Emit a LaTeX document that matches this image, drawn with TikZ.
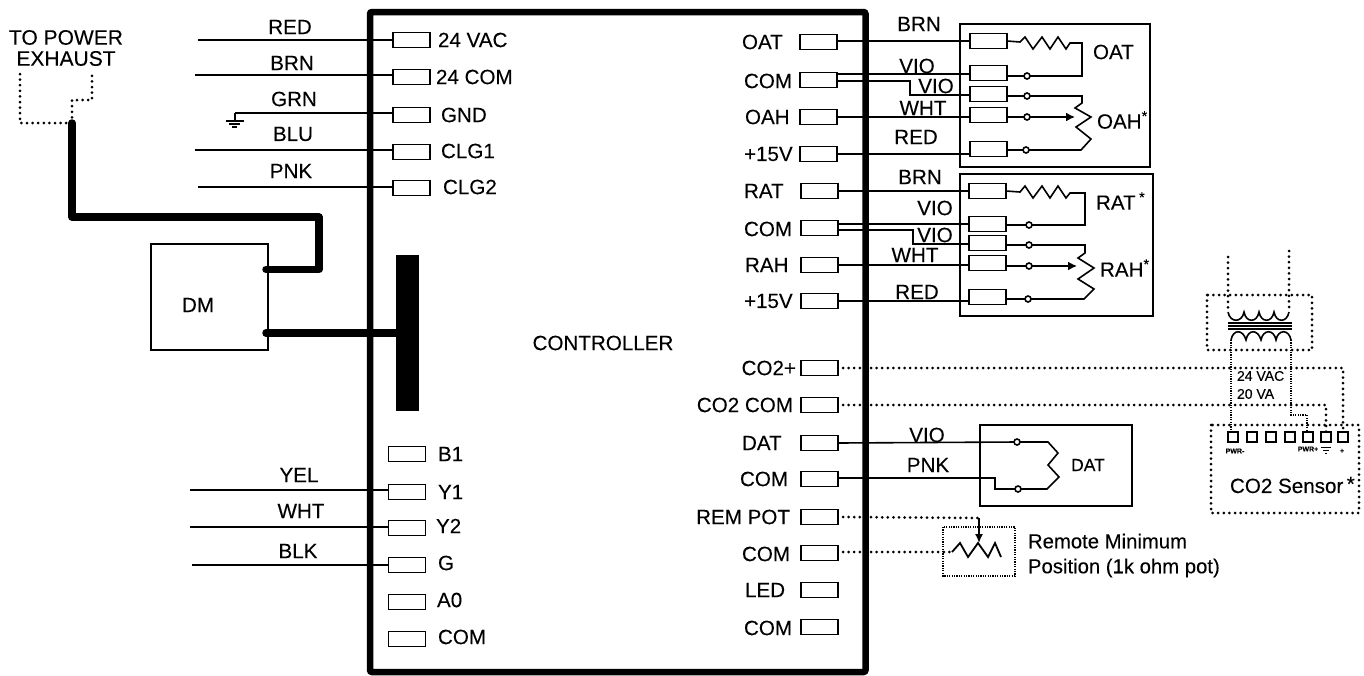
\documentclass[tikz,border=0pt]{standalone}
\usepackage{fontspec}
\setmainfont{Liberation Sans}[FakeBold=0.15]
\usetikzlibrary{arrows.meta}
\tikzset{
  term/.style={draw, line width=1.6pt, rectangle, inner sep=0pt, outer sep=0pt, minimum width=37pt, minimum height=15pt},
  lbl/.style={inner sep=0pt, outer sep=0pt, font=\fontsize{20.6}{22}\selectfont},
  wire/.style={line width=1.6pt},
  fatwire/.style={line width=7.5pt, line join=round, line cap=round},
  dotwire/.style={line width=3pt, line cap=round, dash pattern=on 0pt off 5.6pt},
  thindot/.style={line width=1.2pt, dash pattern=on 1.2pt off 1.2pt},
  pin/.style={draw, line width=1.6pt, circle, fill=white, inner sep=0pt, outer sep=0pt, minimum size=6pt},
  sq/.style={draw, line width=1.4pt, rectangle, inner sep=0pt, outer sep=0pt, minimum size=10pt},
  tiny/.style={inner sep=0pt, outer sep=0pt, font=\fontsize{7}{8}\bfseries\selectfont}
}
\begin{document}
\begin{tikzpicture}[x=1pt, y=-1pt]
\useasboundingbox (0,0) rectangle (1364,675);
% controller
\draw[line width=6.5pt, rounded corners=2pt] (370,12) rectangle (865.5,672);
\node[lbl] (ctrl) at (603,343) {CONTROLLER};
\fill (396,255) rectangle (419,411);
\coordinate (barw) at (396,333);
% left terminals
\node[term] (vac) at (411.5,40) {};
\node[term] (com24) at (411.5,77) {};
\node[term] (gnd) at (411.5,115) {};
\node[term] (clga) at (411.5,152) {};
\node[term] (clgb) at (411.5,188) {};
\node[term] (ba) at (407,454) {};
\node[term] (ya) at (407,492) {};
\node[term] (yb) at (407,528) {};
\node[term] (g) at (407,565) {};
\node[term] (azero) at (407,602) {};
\node[term] (coml) at (407,639) {};
\node[lbl, anchor=west] at (438,40) {24 VAC};
\node[lbl, anchor=west] at (436,77) {24 COM};
\node[lbl, anchor=west] at (441,115) {GND};
\node[lbl, anchor=west] at (441,151) {CLG1};
\node[lbl, anchor=west] at (443,187) {CLG2};
\node[lbl, anchor=west] at (438,454) {B1};
\node[lbl, anchor=west] at (438,492) {Y1};
\node[lbl, anchor=west] at (436,526) {Y2};
\node[lbl, anchor=west] at (438,563) {G};
\node[lbl, anchor=west] at (437,600) {A0};
\node[lbl, anchor=west] at (438,637) {COM};
% left wires
\coordinate (redend) at (198,40);
\coordinate (brnend) at (195,75);
\coordinate (grnend) at (235,113);
\coordinate (bluend) at (195,150);
\coordinate (pnkend) at (198,187);
\coordinate (yelend) at (190,490);
\coordinate (whtend) at (190,527);
\coordinate (blkend) at (192,565);
\draw[wire] (redend) -- (redend -| vac.west);
\draw[wire] (brnend) -- (brnend -| com24.west);
\draw[wire] (grnend) -- (grnend -| gnd.west);
\draw[wire] (bluend) -- (bluend -| clga.west);
\draw[wire] (pnkend) -- (pnkend -| clgb.west);
\draw[wire] (yelend) -- (yelend -| ya.west);
\draw[wire] (whtend) -- (whtend -| yb.west);
\draw[wire] (blkend) -- (blkend -| g.west);
\draw[wire] (grnend) -- (235,121);
\draw[line width=1.6pt] (226,121) -- (244,121);
\draw[line width=1.6pt] (229,124) -- (240,124);
\draw[line width=1.6pt] (232,127) -- (237,127);
\node[lbl] at (290,27) {RED};
\node[lbl] at (292,63) {BRN};
\node[lbl] at (294,99) {GRN};
\node[lbl] at (293,134) {BLU};
\node[lbl] at (291,171) {PNK};
\node[lbl] at (299,475) {YEL};
\node[lbl] at (301,511) {WHT};
\node[lbl] at (298,551) {BLK};
% damper motor
\draw[line width=1.4pt] (151,244) rectangle (268,350);
\node[lbl] (dm) at (198,305) {DM};
\coordinate (dmup) at (266,269.5);
\coordinate (dmlo) at (266,333);
\coordinate (exh) at (72,123);
\draw[fatwire] (dmup) -| (319,217) -| (exh);
\draw[fatwire] (dmlo) -- (barw);
\node[lbl, align=center, font=\fontsize{21}{22}\selectfont] (toexh) at (66,48) {TO POWER\\[-1pt]EXHAUST};
\draw[dotwire] (20,74) |- (exh);
\draw[dotwire] (exh) |- (92,100) -- (92,74);
% right terminals
\node[term] (oat) at (818.5,42) {};
\node[term] (coma) at (818.5,80) {};
\node[term] (oah) at (818.5,117) {};
\node[term] (fva) at (818.5,154) {};
\node[term] (rat) at (819.5,191) {};
\node[term] (comb) at (819.5,228) {};
\node[term] (rah) at (819.5,265) {};
\node[term] (fvb) at (819.5,301) {};
\node[term] (cop) at (819.5,368) {};
\node[term] (coc) at (819.5,405) {};
\node[term] (dat) at (819.5,443) {};
\node[term] (comc) at (819.5,479) {};
\node[term] (rem) at (819.5,517) {};
\node[term] (comd) at (819.5,553) {};
\node[term] (led) at (819.5,590) {};
\node[term] (come) at (819.5,627) {};
\node[lbl, anchor=west] at (742,42) {OAT};
\node[lbl, anchor=west] at (744,81) {COM};
\node[lbl, anchor=west] at (745,117) {OAH};
\node[lbl, anchor=west] at (744,154) {+15V};
\node[lbl, anchor=west] at (744,191) {RAT};
\node[lbl, anchor=west] at (744,229) {COM};
\node[lbl, anchor=west] at (745,265) {RAH};
\node[lbl, anchor=west] at (744,301) {+15V};
\node[lbl, anchor=east] at (796,368) {CO2+};
\node[lbl, anchor=east] at (793,405) {CO2 COM};
\node[lbl, anchor=west] at (742,443) {DAT};
\node[lbl, anchor=west] at (740,479) {COM};
\node[lbl, anchor=east] at (790,517) {REM POT};
\node[lbl, anchor=west] at (742,554) {COM};
\node[lbl, anchor=west] at (745,590) {LED};
\node[lbl, anchor=west] at (744,628) {COM};
% OAT / OAH box
\draw[line width=1.4pt] (960,24) rectangle (1150,167);
\node[term] (oata) at (988.5,41) {};
\node[term] (oatb) at (988.5,73) {};
\node[term] (oahc) at (988.5,94) {};
\node[term] (oahw) at (988.5,115) {};
\node[term] (oahr) at (988.5,149) {};
\node[pin] (pina) at (1027,76) {};
\node[pin] (pinb) at (1027,96) {};
\node[pin] (pinc) at (1027,117) {};
\node[pin] (pind) at (1026,150) {};
\draw[wire] (oat.east |- oata) -- (oata.west);
\draw[wire] (coma.east |- 0,74) -- (oatb.west |- 0,74);
\draw[wire] (coma.east |- 0,81) -| (910,95) -- (oahc.west |- 0,95);
\draw[wire] (oah) -- (oahw.west |- oah);
\draw[wire] (fva) -- (oahr.west |- fva);
\draw[wire] (oata.east) -- (1020,42) -- (1025,37) -- (1033,49) -- (1042,37) -- (1050,49) -- (1058,37) -- (1066,49) -- (1070,43) -- (1082,43) -- (1082,76) -- (pina);
\draw[wire] (oatb.east |- pina) -- (pina);
\draw[wire] (oahc.east |- pinb) -- (pinb);
\draw[wire] (oahw.east |- pinc) -- (pinc);
\draw[wire] (oahr.east |- pind) -- (pind);
\draw[wire] (pinb) -- (1082,96) -- (1082,103) -- (1075,108) -- (1091,117) -- (1076,127) -- (1091,139) -- (1081,150) -- (pind);
\draw[wire, -{Latex[length=9pt,width=9pt]}] (pinc) -- (1075,117);
\node[lbl] at (919,24) {BRN};
\node[lbl] at (917,66) {VIO};
\node[lbl] at (936,86) {VIO};
\node[lbl] at (923,108) {WHT};
\node[lbl] at (916,137) {RED};
\node[lbl, anchor=west] at (1093,52) {OAT};
\node[lbl, anchor=west] at (1097,120) {OAH\textsuperscript{*}};
% RAT / RAH box
\draw[line width=1.4pt] (960,174) rectangle (1153,316);
\node[term] (rata) at (987.5,191) {};
\node[term] (ratb) at (987.5,224) {};
\node[term] (rahc) at (987.5,243) {};
\node[term] (rahw) at (987.5,263) {};
\node[term] (rahr) at (987.5,297) {};
\node[pin] (pine) at (1029,225) {};
\node[pin] (pinf) at (1029,245) {};
\node[pin] (ping) at (1029,266) {};
\node[pin] (pinh) at (1028,299) {};
\draw[wire] (rat) -- (rata.west |- rat);
\draw[wire] (comb.east |- 0,224) -- (ratb.west |- 0,224);
\draw[wire] (comb.east |- 0,230) -| (913,244) -- (rahc.west |- 0,244);
\draw[wire] (rah) -- (rahw.west |- rah);
\draw[wire] (fvb) -- (rahr.west |- fvb);
\draw[wire] (rata.east) -- (1020,192) -- (1025,186) -- (1033,198) -- (1042,186) -- (1050,198) -- (1058,186) -- (1066,198) -- (1070,193) -- (1085,193) -- (1085,225) -- (pine);
\draw[wire] (ratb.east |- pine) -- (pine);
\draw[wire] (rahc.east |- pinf) -- (pinf);
\draw[wire] (rahw.east |- ping) -- (ping);
\draw[wire] (rahr.east |- pinh) -- (pinh);
\draw[wire] (pinf) -- (1085,245) -- (1085,253) -- (1078,258) -- (1094,268) -- (1078,279) -- (1094,289) -- (1084,299) -- (pinh);
\draw[wire, -{Latex[length=9pt,width=9pt]}] (ping) -- (1077,266);
\node[lbl] at (920,177) {BRN};
\node[lbl] at (935,208) {VIO};
\node[lbl] at (935,235) {VIO};
\node[lbl] at (915,255) {WHT};
\node[lbl] at (917,292) {RED};
\node[lbl, anchor=west] at (1096,201) {RAT\,\textsuperscript{*}};
\node[lbl, anchor=west] at (1100,268) {RAH\textsuperscript{*}};
% DAT box
\draw[line width=1.4pt] (980,425) rectangle (1132,506);
\node[pin] (pini) at (1017,442) {};
\node[pin] (pinj) at (1018,489) {};
\draw[wire] (dat.east) -- (pini);
\draw[wire] (comc.east |- 0,478) -| (995,489) -- (pinj);
\draw[wire] (pini) -- (1048,442) -- (1058,453) -- (1048,465) -- (1059,477) -- (1047,489) -- (pinj);
\node[lbl] at (927,435) {VIO};
\node[lbl] at (928,465) {PNK};
\node[lbl, font=\fontsize{17.5}{19}\selectfont] at (1088,465) {DAT};
% remote pot
\draw[thindot] (943,527) rectangle (1015,576);
\coordinate (potin) at (952,552);
\coordinate (remend) at (979,518);
\draw[line width=1.8pt] (potin) -- (960,543) -- (968,557) -- (978,543) -- (988,557) -- (995,543) -- (1001,557);
\draw[dotwire] (rem.east) ++(5,0) -- (remend);
\draw[dotwire] (comd.east |- potin) ++(5,0) -- (potin);
\draw[wire, -{Latex[length=9pt,width=8pt]}] (remend) -- (979,543);
\node[lbl, font=\fontsize{20.3}{25}\selectfont, align=left, anchor=west] at (1028,555.5) {Remote Minimum\\Position (1k ohm pot)};
% CO2 sensor
\draw[dotwire] (1211,425) rectangle (1359,513);
\node[sq] (sa) at (1233,437) {};
\node[sq] (sb) at (1252,437) {};
\node[sq] (sc) at (1271,437) {};
\node[sq] (sd) at (1290,437) {};
\node[sq] (se) at (1308,437) {};
\node[sq] (sf) at (1326,437) {};
\node[sq] (sg) at (1343,437) {};
\node[tiny] at (1235,451) {PWR-};
\node[tiny] at (1308,449) {PWR+};
\node[tiny] at (1342,451) {+};
\draw[line width=1pt] (1321,447.5) -- (1331,447.5);
\draw[line width=1pt] (1323,450.5) -- (1329,450.5);
\draw[line width=1pt] (1325,453) -- (1327,453);
\node[lbl, anchor=west] at (1230,485) {CO2 Sensor\,\raisebox{2pt}{*}};
% transformer
\draw[dotwire] (1207,295) rectangle (1312,350);
\coordinate (pria) at (1228,312);
\coordinate (prib) at (1289,312);
\coordinate (seca) at (1231,340);
\coordinate (secb) at (1291,340);
\draw[dotwire] (1228,257) -- (pria);
\draw[dotwire] (1289,251) -- (prib);
\draw[wire] (pria) .. controls (1230,323) and (1242,323) .. (1244,312) .. controls (1246,323) and (1257,323) .. (1259,312) .. controls (1261,323) and (1272,323) .. (1274,312) .. controls (1276,323) and (1287,323) .. (prib);
\draw[wire] (1228,323) -- (1292,323);
\draw[wire] (1228,326) -- (1292,326);
\draw[wire] (1228,329) -- (1292,329);
\draw[wire] (seca) .. controls (1233,329) and (1243,329) .. (1246,340) .. controls (1248,329) and (1258,329) .. (1261,340) .. controls (1263,329) and (1274,329) .. (1276,340) .. controls (1278,329) and (1289,329) .. (secb);
\draw[thindot] (seca) -- (sa.north -| seca);
\draw[thindot] (secb) |- (1307,415) -- (se.north -| 1307,0);
\draw[dotwire] (cop.east) ++(5,0) -| (sg.north);
\draw[dotwire] (coc.east) ++(5,0) -| (sf.north);
\node[lbl, font=\fontsize{14}{18}\selectfont, align=left, anchor=north west] at (1237,371) {24 VAC\\20 VA};
\end{tikzpicture}
\end{document}
